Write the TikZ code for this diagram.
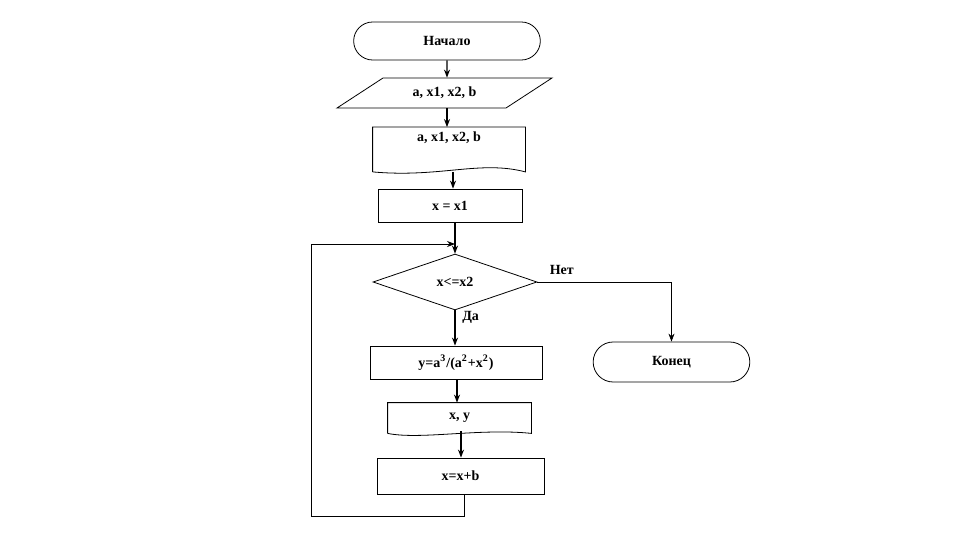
\documentclass[tikz,border=0pt]{standalone}
\usepackage{fontspec}
\setmainfont{Liberation Serif}
\usetikzlibrary{positioning,arrows.meta,shapes.geometric,shapes.misc}

\begin{document}
\begin{tikzpicture}[x=0.5pt,y=-0.5pt,
  every node/.style={font=\fontsize{7}{8}\selectfont\rmfamily\bfseries},
  term/.style={rounded rectangle,draw,minimum width=100pt,minimum height=19pt},
  proc/.style={rectangle,draw,minimum height=16.5pt},
  doc/.style={rectangle,minimum height=17pt},
  arr/.style={-{Stealth[length=4pt,width=3pt]},semithick},
  line/.style={semithick},
]
\useasboundingbox (0,0) rectangle (960,540);
\node (start) [term] at (447,41) {Начало};

% input
\node (in) [minimum width=85pt,minimum height=15pt] at (444.5,93) {a, x1, x2, b};
\draw (383,78) -- (552,78) -- (506,108) -- (337,108) -- cycle;

% output
\node (out) [doc,minimum width=76pt,minimum height=22pt] at (449,149.5) {};
\node at (449,138) {a, x1, x2, b};
\draw (out.south west) -- (out.north west) -- (out.north east) -- (out.south east)
  .. controls (480,160) and (440,178) .. (out.south west);

\node (init) [proc,minimum width=72pt] at (450,205.5) {x = x1};
\node (cond) [diamond,draw,aspect=2.9,minimum width=82pt,minimum height=28pt,inner sep=0pt] at (455,282) {x<=x2};
\node (calc) [proc,minimum width=86pt] at (456,362.5) {y=a\textsuperscript{3}/(a\textsuperscript{2}+x\textsuperscript{2})};
\node (prn) [doc,minimum width=71.5pt,minimum height=15pt] at (459.5,418) {x, y};
\draw (prn.south west) -- (prn.north west) -- (prn.north east) -- (prn.south east)
  .. controls (480,428) and (420,440) .. (prn.south west);
\node (step) [proc,minimum width=83.5pt,minimum height=18pt] at (460.5,476) {x=x+b};
\node (end) [term,minimum width=85pt,minimum height=20pt] at (671.5,362) {Конец};

\coordinate (top) at (455,244);
\draw[arr] (start) -- (in.north -| start);
\draw[arr] (in.south -| start) -- (out.north -| start);
\draw[arr] (453,172) -- (init.north -| 453,0);
\draw[line] (init.south -| cond) -- (top);
\draw[arr] (top) -- (cond.north);
\draw[arr] (cond.south) -- (calc.north -| cond.south) node[pos=0.2,right] {Да};
\draw[arr,thin] (cond.east) -| (end.north) node[pos=0.02,above right] {Нет};
\draw[arr] (calc.south -| 457,0) -- (prn.north -| 457,0);
\draw[arr] (461,431) -- (step.north -| 461,0);
\draw[arr,thin] (step.south -| 464,0) |- (311,516) |- (top);
\end{tikzpicture}
\end{document}
